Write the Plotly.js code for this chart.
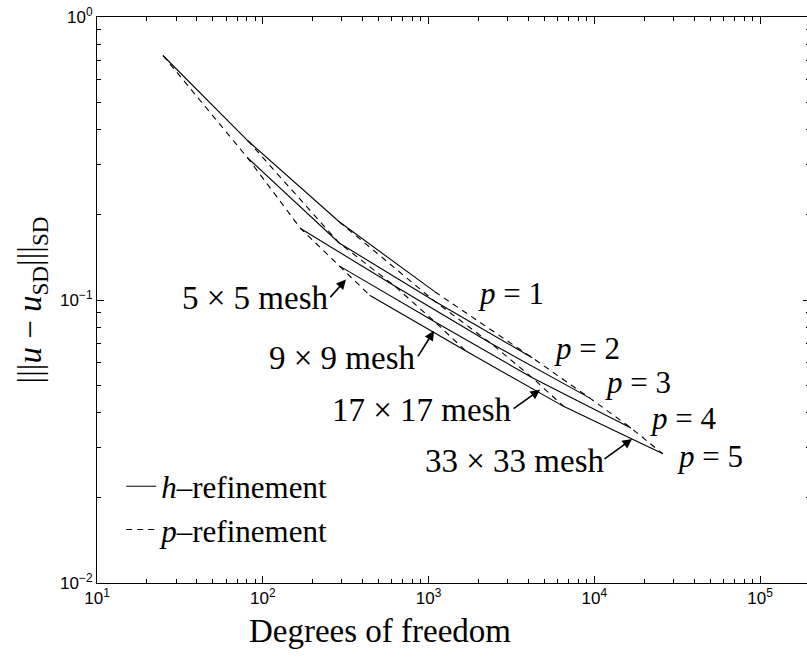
<!DOCTYPE html>
<html>
<head>
<meta charset="utf-8">
<script src="https://cdn.plot.ly/plotly-3.0.1.min.js"></script>
<style>
html,body{margin:0;padding:0;overflow:hidden;background:#fff;}
#chart{width:812px;height:663px;}
</style>
</head>
<body>
<div id="chart"></div>
<script>
// Degrees of freedom for each mesh, polynomial orders p = 1..5
const orders = [1, 2, 3, 4, 5];
const meshNames = ['5 × 5', '9 × 9', '17 × 17', '33 × 33'];
const dof_5x5   = [25, 81, 169, 289, 441];
const dof_9x9   = [81, 289, 625, 1089, 1681];
const dof_17x17 = [289, 1089, 2401, 4225, 6561];
const dof_33x33 = [1089, 4225, 9409, 16641, 25921];
// Error |||u - u_SD|||_SD for each mesh, p = 1..5
const err_5x5   = [0.731, 0.318, 0.179, 0.132, 0.104];
const err_9x9   = [0.366, 0.159, 0.112, 0.0838, 0.066];
const err_17x17 = [0.189, 0.099, 0.070, 0.0531, 0.042];
const err_33x33 = [0.107, 0.0625, 0.045, 0.0353, 0.0286];

const dofs = [dof_5x5, dof_9x9, dof_17x17, dof_33x33];
const errs = [err_5x5, err_9x9, err_17x17, err_33x33];

const serif = 'Liberation Serif';
const sans = 'Liberation Sans';
const traces = [];

// h-refinement: fixed p, across meshes (solid)
orders.forEach((p, j) => {
  traces.push({
    x: dofs.map(d => d[j]), y: errs.map(e => e[j]),
    type: 'scatter', mode: 'lines',
    line: {color: '#000', width: 1.1},
    name: '<i>h</i>–refinement', legendgroup: 'h',
    showlegend: j === 0
  });
});
// p-refinement: fixed mesh, across p (dashed)
meshNames.forEach((m, i) => {
  traces.push({
    x: dofs[i], y: errs[i],
    type: 'scatter', mode: 'lines',
    line: {color: '#000', width: 1.1, dash: '6px,5px'},
    name: '<i>p</i>–refinement', legendgroup: 'p',
    showlegend: i === 0
  });
});

// label positions (log10 data coordinates)
const pLabelX = [3.500, 3.955, 4.262, 4.535, 4.698];
const pLabelY = [-0.978, -1.170, -1.293, -1.418, -1.554];
const meshLabelX = [1.959, 2.478, 2.961, 3.522];
const meshLabelY = [-0.992, -1.204, -1.388, -1.569];
const arrowTipX = [2.502, 3.033, 3.673, 4.228];
const arrowTipY = [-0.928, -1.109, -1.317, -1.491];
const arrowTail = [[-17, 19], [-17, 27], [-28, 20], [-29, 21]];

const annotations = [];
orders.forEach((p, j) => {
  annotations.push({x: pLabelX[j], y: pLabelY[j], xref: 'x', yref: 'y',
    text: '<i>p</i> = ' + p, showarrow: false,
    font: {family: serif, size: 31, color: '#000'}});
});
meshNames.forEach((m, i) => {
  annotations.push({x: meshLabelX[i], y: meshLabelY[i], xref: 'x', yref: 'y',
    text: m + ' mesh', showarrow: false,
    font: {family: serif, size: 33, color: '#000'}});
  annotations.push({x: arrowTipX[i], y: arrowTipY[i], xref: 'x', yref: 'y',
    text: '', showarrow: true, ax: arrowTail[i][0], ay: arrowTail[i][1],
    arrowhead: 2, arrowsize: 1.2, arrowwidth: 1.6, arrowcolor: '#000'});
});
annotations.push({x: 0.397, y: -0.085, xref: 'paper', yref: 'paper',
  text: 'Degrees of freedom', showarrow: false, yanchor: 'middle',
  font: {family: serif, size: 33, color: '#000'}});

function minorVals(lo, hi) {
  const v = [];
  for (let e = lo; e < hi; e++) for (let k = 2; k <= 9; k++) v.push(k * Math.pow(10, e));
  return v;
}

const layout = {
  width: 812, height: 663,
  margin: {l: 97, r: 2, t: 17, b: 80},
  paper_bgcolor: '#fff', plot_bgcolor: '#fff',
  showlegend: true,
  legend: {x: 0.034, y: 0.218, xanchor: 'left', yanchor: 'top',
    bgcolor: 'rgba(0,0,0,0)', borderwidth: 0, tracegroupgap: 0,
    font: {family: serif, size: 31, color: '#000'}},
  xaxis: {type: 'log', range: [1, 5.301], showgrid: false, zeroline: false,
    showline: true, linecolor: '#000', linewidth: 1, mirror: 'ticks',
    ticks: 'inside', ticklen: 7, tickcolor: '#000',
    tickvals: [10, 100, 1000, 10000, 100000],
    ticktext: ['10<sup>1</sup>', '10<sup>2</sup>', '10<sup>3</sup>', '10<sup>4</sup>', '10<sup>5</sup>'],
    tickfont: {family: sans, size: 17, color: '#000'},
    minor: {tickvals: minorVals(1, 6), ticks: 'inside', ticklen: 4, tickcolor: '#000', showgrid: false}},
  yaxis: {type: 'log', range: [-2, 0], showgrid: false, zeroline: false,
    showline: true, linecolor: '#000', linewidth: 1, mirror: 'ticks',
    ticks: 'inside', ticklen: 7, tickcolor: '#000',
    tickvals: [0.01, 0.1, 1],
    ticktext: ['10<sup>−2</sup>', '10<sup>−1</sup>', '10<sup>0</sup>'],
    tickfont: {family: sans, size: 17, color: '#000'},
    minor: {tickvals: minorVals(-2, 0), ticks: 'inside', ticklen: 4, tickcolor: '#000', showgrid: false},
    title: {text: '|||<i>u</i> − <i>u</i><sub>SD</sub>|||<sub>SD</sub>', standoff: 8,
      font: {family: serif, size: 33, color: '#000'}}},
  annotations: annotations
};

Plotly.newPlot('chart', traces, layout, {displayModeBar: false, staticPlot: true});
</script>
</body>
</html>
